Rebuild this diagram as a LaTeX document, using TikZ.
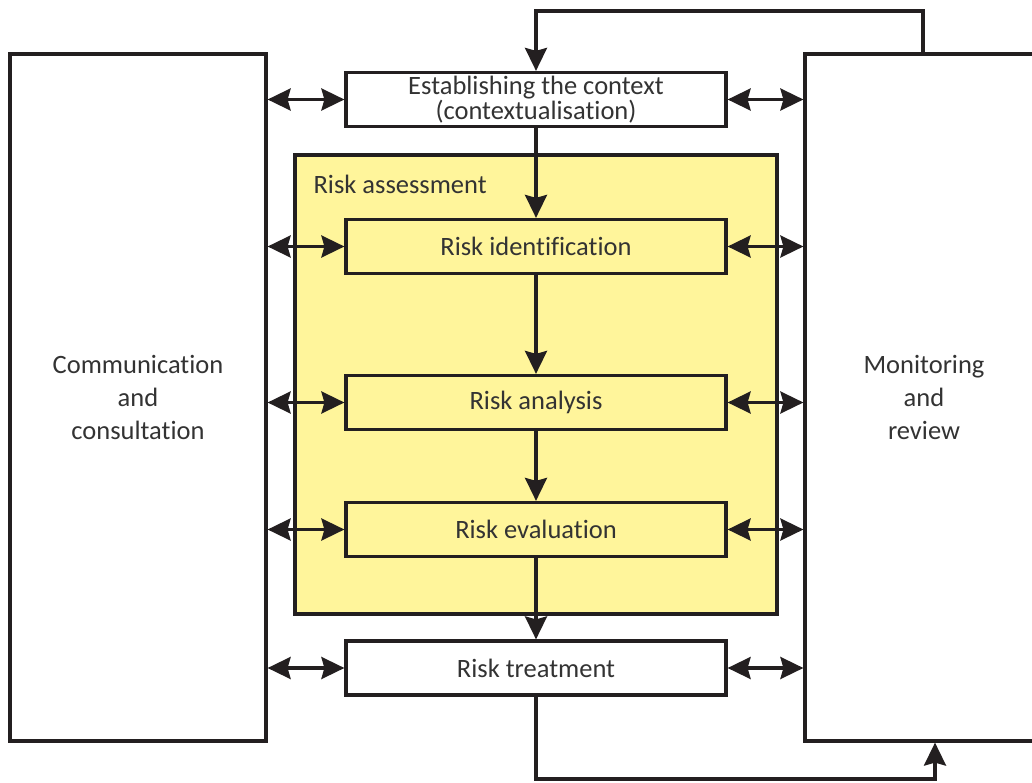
\documentclass[tikz,border=0pt]{standalone}
\usepackage{fontspec}
\setmainfont{Carlito}[Ligatures=NoCommon]
\usetikzlibrary{arrows.meta,positioning}

\definecolor{riskyellow}{RGB}{255,245,155}
\definecolor{linegray}{RGB}{35,31,32}
\definecolor{textgray}{RGB}{51,51,51}

\begin{document}
\begin{tikzpicture}[x=1pt,y=-1pt,>={Stealth[length=23pt,width=22pt,inset=3pt]},
    line width=3.2pt,
    step box/.style={draw=linegray,fill=white,minimum width=380pt,minimum height=54pt,
      inner sep=0pt,text=textgray,align=center,font=\fontsize{26.5}{23}\selectfont},
    side box/.style={draw=linegray,fill=white,minimum height=687pt,inner sep=0pt,
      text=textgray,align=center,font=\fontsize{26.5}{33}\selectfont},
    flow/.style={->,draw=linegray},
    both/.style={<->,draw=linegray}]

  \useasboundingbox (0,0) rectangle (1032,783);

  \node[draw=linegray,fill=riskyellow,minimum width=482pt,minimum height=459pt] (assess) at (536,384.5) {};
  \node[anchor=base west,inner sep=0pt,text=textgray,font=\fontsize{26.5}{23}\selectfont] (assesslbl) at (312,194) {Risk assessment};

  \node[side box,minimum width=256pt] (comm) at (138,397.5) {Communication\\and\\consultation};
  \node[side box,minimum width=238pt] (mon) at (924,397.5) {Monitoring\\and\\review};

  \node[step box] (ctx) at (536,99.5) {Establishing the context\\(contextualisation)};
  \node[step box,fill=riskyellow] (ident) at (536,246.5) {Risk identification};
  \node[step box,fill=riskyellow] (anal) at (536,402.5) {Risk analysis};
  \node[step box,fill=riskyellow] (eval) at (536,529.5) {Risk evaluation};
  \node[step box] (treat) at (536,668) {Risk treatment};

  \coordinate (fbtop) at (923,11);
  \coordinate (fbbot) at (935,779);

  % main flow
  \draw[flow] (ctx) -- (ident);
  \draw[flow] (ident) -- (anal);
  \draw[flow] (anal) -- (eval);
  \draw[flow] (eval) -- (treat);

  % feedback loops
  \draw[flow] (fbtop |- mon.north) -- (fbtop) -| (ctx.north);
  \draw[flow] (treat.south) |- (fbbot) -- (fbbot |- mon.south);

  % communication and monitoring
  \foreach \s in {ctx,ident,anal,eval,treat}{
    \draw[both] (comm.east |- \s.west) -- (\s.west);
    \draw[both] (\s.east) -- (mon.west |- \s.east);
  }
\end{tikzpicture}
\end{document}
